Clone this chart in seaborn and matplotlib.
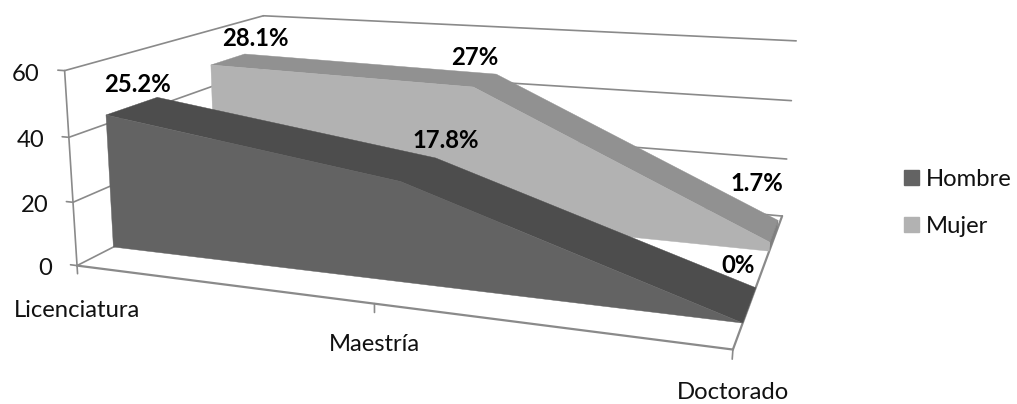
import numpy as np
import matplotlib
matplotlib.use("Agg")
import matplotlib.pyplot as plt
from matplotlib.patches import Patch
import seaborn as sns

# Categories and series (share of each group, in percent)
categories = ["Licenciatura", "Maestría", "Doctorado"]
hombre = [25.2, 17.8, 0.0]
mujer = [28.1, 27.0, 1.7]
hombre_labels = ["25.2%", "17.8%", "0%"]
mujer_labels = ["28.1%", "27%", "1.7%"]
axis_ticks = [0, 20, 40, 60]

# Height of the value axis units per percentage point
UNITS_PER_PERCENT = 1.7

# Ribbon depth ranges along the floor (0 = front, 1 = back)
HOMBRE_DEPTH = (0.155, 0.39)
MUJER_DEPTH = (0.675, 0.875)

GRID = "#8a8a8a"
HOMBRE_FRONT, HOMBRE_TOP, HOMBRE_SIDE = "#636363", "#4d4d4d", "#5a5a5a"
MUJER_FRONT, MUJER_TOP, MUJER_SIDE = "#b2b2b2", "#919191", "#7f7f7f"

sns.set_theme(style="white")
plt.rcParams["font.family"] = ["Lato", "DejaVu Sans"]
FS = 17.2

# Pinhole view of the box: (category position, axis value, depth) -> canvas pixel
view_world = np.array([
    (0, 0, 0), (0, 20, 0), (0, 40, 0), (0, 60, 0),
    (1, 0, 0), (1, 0, 1), (1, 20, 1), (1, 40, 1), (1, 60, 1),
    (0, 0, 1), (0, 60, 1),
], dtype=float)
view_canvas = np.array([
    (78, 265), (72, 202), (68, 137), (64, 71),
    (733, 350), (783, 214), (787, 158), (791, 100), (795, 42),
    (254, 180), (265, 15),
], dtype=float)
view_weight = np.array([4, 2, 2, 4, 4, 2, 1, 1, 2, 1, 3], dtype=float)


def fit_view(world, canvas, weight):
    rows, rhs = [], []
    for (x, v, d), (u, w), k in zip(world, canvas, weight):
        rows.append(k * np.array([x, v, d, 1, 0, 0, 0, 0, -u * x, -u * v, -u * d]))
        rows.append(k * np.array([0, 0, 0, 0, x, v, d, 1, -w * x, -w * v, -w * d]))
        rhs += [k * u, k * w]
    p = np.linalg.lstsq(np.array(rows), np.array(rhs), rcond=None)[0]
    return np.append(p, 1.0).reshape(3, 4)


VIEW = fit_view(view_world, view_canvas, view_weight)


def project(x, v, d):
    q = VIEW @ np.array([x, v, d, 1.0])
    return q[0] / q[2], q[1] / q[2]


def segment(ax, a, b, lw=1.2):
    pts = np.array([project(*a), project(*b)])
    sns.lineplot(x=pts[:, 0], y=pts[:, 1], color=GRID, linewidth=lw, sort=False,
                 estimator=None, legend=False, ax=ax, zorder=1)


fig = plt.figure(figsize=(10.17, 4.04), dpi=100)
ax = fig.add_axes([0, 0, 1, 1])
ax.set_xlim(0, 1017)
ax.set_ylim(404, 0)
ax.axis("off")

# Walls, floor and ticks
for t in axis_ticks:
    segment(ax, (0, t, 0), (0, t, 1))
    segment(ax, (0, t, 1), (1, t, 1))
    segment(ax, (-0.012, t, 0), (0, t, 0))
    px, py = project(-0.012, t, 0)
    ax.text(px - 18, py + 4, str(t), ha="right", va="center", fontsize=FS, color="#111111")
segment(ax, (0, 60, 0), (0, 0, 0))
segment(ax, (0, 0, 0), (1, 0, 0), lw=1.6)
segment(ax, (1, 0, 0), (1, 0, 1), lw=1.6)

xpos = np.linspace(0, 1, len(categories))
for x, name, dy in zip(xpos, categories, (45, 41, 43)):
    segment(ax, (x, 0, 0), (x, -2.6, 0))
    px, py = project(x, 0, 0)
    ax.text(px, py + dy, name, ha="center", va="center", fontsize=FS, color="#111111")


def ribbon(ax, values, depth, front, top, side, z):
    d0, d1 = depth
    h = np.asarray(values) * UNITS_PER_PERCENT
    # Upper surface, one panel between each pair of categories
    up = [project(x, v, d0) for x, v in zip(xpos, h)] + \
         [project(x, v, d1) for x, v in zip(xpos[::-1], h[::-1])]
    ax.fill(*zip(*up), color=top, lw=0.3, zorder=z)
    # End cap at the last category
    cap = [project(1, h[-1], d0), project(1, h[-1], d1), project(1, 0, d1), project(1, 0, d0)]
    ax.fill(*zip(*cap), color=side, lw=0.3, zorder=z)
    # Front face
    face = [project(x, v, d0) for x, v in zip(xpos, h)] + [project(1, 0, d0), project(0, 0, d0)]
    ax.fill(*zip(*face), color=front, lw=0.3, zorder=z + 0.1)
    return [project(x, v, d1) for x, v in zip(xpos, h)]


mujer_tops = ribbon(ax, mujer, MUJER_DEPTH, MUJER_FRONT, MUJER_TOP, MUJER_SIDE, 2)
hombre_tops = ribbon(ax, hombre, HOMBRE_DEPTH, HOMBRE_FRONT, HOMBRE_TOP, HOMBRE_SIDE, 3)

# Value labels, placed relative to the rear edge of each ribbon
for (px, py), text, off in zip(mujer_tops, mujer_labels, [(11, -16), (-21, -17), (-21, -37)]):
    ax.text(px + off[0], py + off[1], text, ha="center", va="center",
            fontsize=FS, fontweight="bold", color="black", zorder=6)
for (px, py), text, off in zip(hombre_tops, hombre_labels, [(-20, -13), (10, -17), (-18, -22)]):
    ax.text(px + off[0], py + off[1], text, ha="center", va="center",
            fontsize=FS, fontweight="bold", color="black", zorder=6)

ax.legend(
    handles=[Patch(color=HOMBRE_FRONT, label="Hombre"), Patch(color=MUJER_FRONT, label="Mujer")],
    loc="upper left", bbox_to_anchor=(904, 169), bbox_transform=ax.transData,
    frameon=False, fontsize=FS, handlelength=0.62, handleheight=0.62,
    handletextpad=0.3, labelspacing=1.08, borderpad=0, borderaxespad=0, labelcolor="#111111",
)

fig.savefig("out.png", dpi=100)
